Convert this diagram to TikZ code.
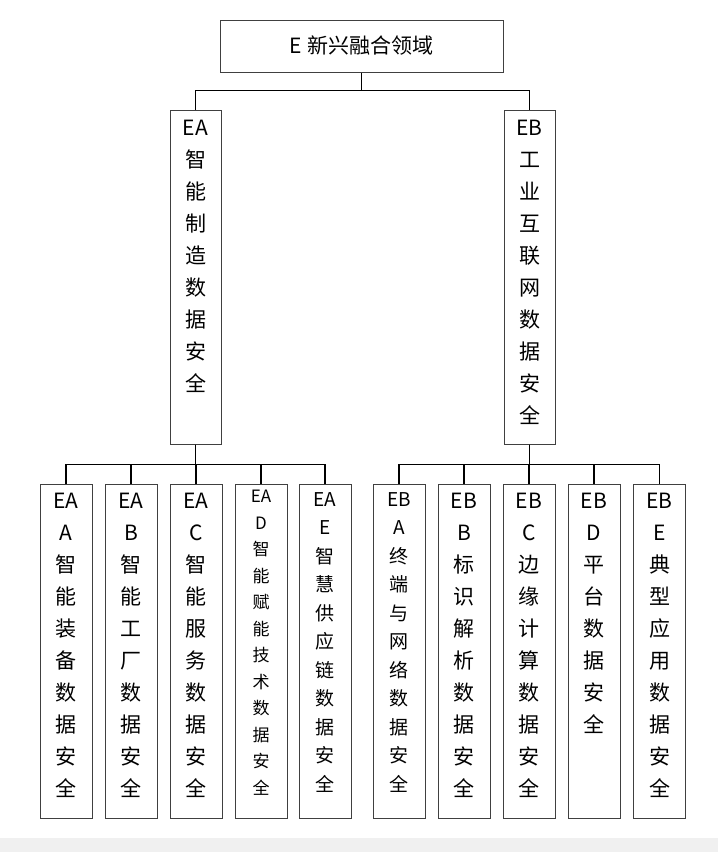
\documentclass[tikz,border=0pt]{standalone}
\usepackage{fontspec}
\setmainfont{Noto Sans CJK SC}
\begin{document}
\begin{tikzpicture}[x=1pt,y=-1pt,
  bx/.style={draw=black!75,line width=1pt,inner sep=0pt},
  tx/.style={anchor=north,align=center,inner sep=0pt,font=\fontsize{21}{32}\selectfont},
  txm/.style={anchor=north,align=center,inner sep=0pt,font=\fontsize{19}{28.5}\selectfont},
  txs/.style={anchor=north,align=center,inner sep=0pt,font=\fontsize{17}{26.5}\selectfont},
  ln/.style={line width=1.6pt}]
\useasboundingbox (0,0) rectangle (718,852);
\fill[black!6] (0,838) rectangle (718,852);
\node[bx,minimum width=283pt,minimum height=52pt] (top) at (361.5,46) {\fontsize{21}{26}\selectfont E 新兴融合领域};
\node[bx,minimum width=51pt,minimum height=334pt] (ea) at (195.5,277) {};
\node[bx,minimum width=51pt,minimum height=334pt] (eb) at (529.5,277) {};
\node[tx] (eat) at (195.5,120) {EA\\智\\能\\制\\造\\数\\据\\安\\全};
\node[tx] (ebt) at (529.5,120) {EB\\工\\业\\互\\联\\网\\数\\据\\安\\全};
\foreach \n/\x/\t in {aa/66/{EA\\A\\智\\能\\装\\备\\数\\据\\安\\全},ab/131/{EA\\B\\智\\能\\工\\厂\\数\\据\\安\\全},ac/196/{EA\\C\\智\\能\\服\\务\\数\\据\\安\\全},bb/464/{EB\\B\\标\\识\\解\\析\\数\\据\\安\\全},bc/529/{EB\\C\\边\\缘\\计\\算\\数\\据\\安\\全},bd/594/{EB\\D\\平\\台\\数\\据\\安\\全},be/659.5/{EB\\E\\典\\型\\应\\用\\数\\据\\安\\全}}{
  \node[bx,minimum width=52pt,minimum height=334pt] (\n) at (\x,651) {};
  \node[tx] (\n t) at (\x,493) {\t};
}
\node[bx,minimum width=52pt,minimum height=334pt] (ae) at (325,651) {};
\node[txm] (aet) at (325,492) {EA\\E\\智\\慧\\供\\应\\链\\数\\据\\安\\全};
\node[bx,minimum width=52pt,minimum height=334pt] (ba) at (399,651) {};
\node[txm] (bat) at (399,492) {EB\\A\\终\\端\\与\\网\\络\\数\\据\\安\\全};
\node[bx,minimum width=52pt,minimum height=334pt] (ad) at (261,651) {};
\node[txs] (adt) at (261,490) {EA\\D\\智\\能\\赋\\能\\技\\术\\数\\据\\安\\全};
\draw[ln] (top.south) -- ++(0,18) -| (ea.north);
\draw[ln] (top.south) ++(0,18) -| (eb.north);
\foreach \n in {aa,ab,ac,ad,ae}{\draw[ln] (ea.south) -- ++(0,20) -| (\n.north);}
\foreach \n in {ba,bb,bc,bd,be}{\draw[ln] (eb.south) -- ++(0,20) -| (\n.north);}
\end{tikzpicture}
\end{document}
